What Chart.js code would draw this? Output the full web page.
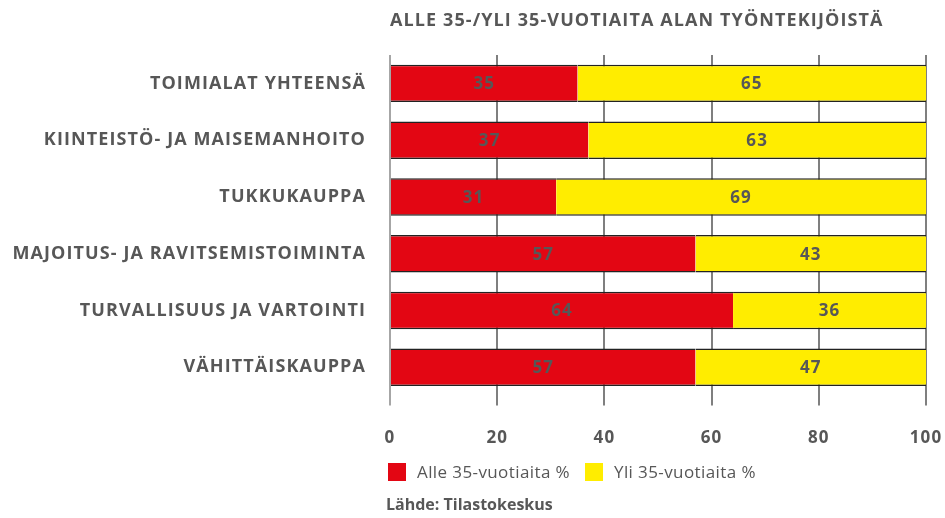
<!DOCTYPE html>
<html>
<head>
<meta charset="utf-8">
<script src="https://cdn.jsdelivr.net/npm/chart.js@4"></script>
<style>
  body { margin: 0; background: #fff; font-family: "Open Sans", sans-serif; color: #575757; }
  #wrap { position: relative; width: 945px; height: 518px; }
  #chart { position: absolute; left: 0; top: 0; }
  .title { position: absolute; left: 390px; top: 7px; font-size: 18px; font-weight: 700; letter-spacing: 1.1px; white-space: nowrap; }
  .legend { position: absolute; left: 388px; top: 460px; font-size: 17px; letter-spacing: 0.4px; white-space: nowrap; display: flex; align-items: center; }
  .legend span.box { display: inline-block; width: 18px; height: 18px; margin-right: 11px; }
  .legend span.lab { margin-right: 15px; }
  .source { position: absolute; left: 386px; top: 493px; font-size: 16px; font-weight: 700; white-space: nowrap; }
</style>
</head>
<body>
<div id="wrap">
  <canvas id="chart" width="945" height="518"></canvas>
  <div class="title">ALLE 35-/YLI 35-VUOTIAITA ALAN TYÖNTEKIJÖISTÄ</div>
  <div class="legend" id="legend"></div>
  <div class="source">Lähde: Tilastokeskus</div>
</div>
<script>
// Data
const categories = [
    'TOIMIALAT YHTEENSÄ',
    'KIINTEISTÖ- JA MAISEMANHOITO',
    'TUKKUKAUPPA',
    'MAJOITUS- JA RAVITSEMISTOIMINTA',
    'TURVALLISUUS JA VARTOINTI',
    'VÄHITTÄISKAUPPA'
];
const under35 = [35, 37, 31, 57, 64, 57];
const over35 = [65, 63, 69, 43, 36, 47];
const seriesNames = ['Alle 35-vuotiaita %', 'Yli 35-vuotiaita %'];
const xTicks = [0, 20, 40, 60, 80, 100];

const colors = ['#e30613', '#ffed00'];
const textGray = '#575757';

// Legend (HTML)
const legendBox = document.getElementById('legend');
seriesNames.forEach((name, i) => {
    let b = document.createElement('span');
    b.className = 'box';
    b.style.background = colors[i];
    let l = document.createElement('span');
    l.className = 'lab';
    l.textContent = name;
    legendBox.appendChild(b);
    legendBox.appendChild(l);
});

// wider lettering for the canvas text, like the original font
const spacing = {
    id: 'spacing',
    beforeDraw(chart) {
        chart.ctx.letterSpacing = '1.1px';
    }
};

// Value labels centred in the visible part of each segment
const valueLabels = {
    id: 'valueLabels',
    afterDatasetsDraw(chart) {
        const { ctx, chartArea } = chart;
        ctx.save();
        ctx.font = 'bold 17px "Open Sans", sans-serif';
        ctx.fillStyle = textGray;
        ctx.textAlign = 'center';
        ctx.textBaseline = 'middle';
        chart.data.datasets.forEach((ds, di) => {
            const meta = chart.getDatasetMeta(di);
            meta.data.forEach((el, i) => {
                const left = Math.max(Math.min(el.x, el.base), chartArea.left);
                const right = Math.min(Math.max(el.x, el.base), chartArea.right);
                ctx.fillText(String(ds.data[i]), (left + right) / 2, el.y + 1);
            });
        });
        ctx.restore();
    }
};

const ctx = document.getElementById('chart').getContext('2d');

const barStyle = {
    borderColor: '#222',
    borderWidth: { top: 1.5, bottom: 1.5, left: 0, right: 0 },
    borderSkipped: false,
    categoryPercentage: 1,
    barPercentage: 0.66
};

const chart = new Chart(ctx, {
    type: 'bar',
    data: {
        labels: categories,
        datasets: [
            Object.assign({ label: seriesNames[0], data: under35, backgroundColor: colors[0] }, barStyle),
            Object.assign({ label: seriesNames[1], data: over35, backgroundColor: colors[1] }, barStyle)
        ]
    },
    options: {
        indexAxis: 'y',
        responsive: false,
        animation: false,
        layout: { padding: { top: 55, right: 19, bottom: 48, left: 0 } },
        plugins: {
            legend: { display: false },
            tooltip: { enabled: false }
        },
        scales: {
            x: {
                stacked: true,
                min: 0,
                max: 100,
                afterBuildTicks: (scale) => {
                    scale.ticks = xTicks.map(v => ({ value: v }));
                },
                afterFit: (scale) => {
                    scale.paddingLeft = 0;
                    scale.paddingRight = 0;
                },
                grid: {
                    color: (c) => c.tick && c.tick.value === 0 ? '#a6a6a6' : '#7f7f7f',
                    lineWidth: 2,
                    drawTicks: true,
                    tickLength: 10
                },
                border: { display: false },
                ticks: {
                    padding: 22,
                    color: textGray,
                    font: { family: '"Open Sans", sans-serif', size: 17, weight: 'bold' }
                }
            },
            y: {
                stacked: true,
                grid: { display: false, drawTicks: false },
                border: { display: false },
                afterFit: (scale) => { scale.width = 390; },
                ticks: {
                    padding: 24,
                    color: textGray,
                    font: { family: '"Open Sans", sans-serif', size: 18, weight: 'bold' }
                }
            }
        }
    },
    plugins: [spacing, valueLabels]
});
</script>
</body>
</html>
